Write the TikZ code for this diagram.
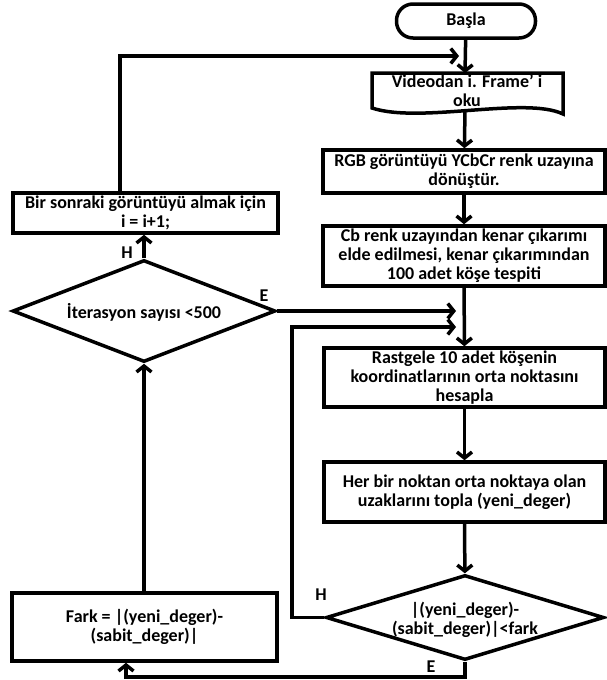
\documentclass[tikz,border=0pt]{standalone}
\usepackage{fontspec}
\setmainfont{Carlito}
\usetikzlibrary{arrows.meta,shapes.geometric}
\begin{document}
\begin{tikzpicture}[x=1pt,y=-1pt,line width=3.5pt,
  >={Straight Barb[length=6pt,width=15pt]},
  txt/.style={font=\bfseries\fontsize{18}{19}\selectfont,align=center,inner sep=0pt},
  box/.style={draw,rectangle,inner sep=0pt,font=\bfseries\fontsize{18}{19}\selectfont,align=center},
  diam/.style={draw,diamond,inner sep=0pt},
  lbl/.style={font=\bfseries\fontsize{18}{19}\selectfont,inner sep=0pt}]
\useasboundingbox (0,0) rectangle (606,680);
% start
\node[draw,rectangle,rounded corners=16.5pt,minimum width=139pt,minimum height=34pt,txt] (start) at (466,21) {Başla};
% document shape
\coordinate (doctop) at (465,73);
\coordinate (docbot) at (465,111);
\draw (372,73) -- (563,73) -- (563,114) .. controls (525,96) and (420,124) .. (372,108) -- cycle;
\node[txt] (doc) at (467,91) {Videodan i. Frame’ i\\oku};
% right column
\node[box,minimum width=282pt,minimum height=43pt] (rgb) at (464,171.5) {RGB görüntüyü YCbCr renk uzayına\\dönüştür.};
\node[box,minimum width=282pt,minimum height=60pt] (cb) at (464,256) {Cb renk uzayından kenar çıkarımı\\elde edilmesi, kenar çıkarımından\\100 adet köşe tespiti};
\node[box,minimum width=281pt,minimum height=59pt] (rast) at (464.5,377.5) {Rastgele 10 adet köşenin\\koordinatlarının orta noktasını\\hesapla};
\node[box,minimum width=281pt,minimum height=60pt] (her) at (464.5,492) {Her bir noktan orta noktaya olan\\uzaklarını topla (yeni\_deger)};
\node[diam,minimum width=278pt,minimum height=85pt] (d2) at (465,617.5) {};
\node[txt] (d2t) at (465,620) {|(yeni\_deger)-\\(sabit\_deger)|<fark};
% left column
\node[box,minimum width=265pt,minimum height=68pt] (fark) at (144.5,627) {Fark = |(yeni\_deger)-\\(sabit\_deger)|};
\node[diam,minimum width=263pt,minimum height=102pt] (d1) at (144,311) {};
\node[txt] (d1t) at (144,312) {İterasyon sayısı <500};
\node[box,minimum width=265pt,minimum height=40pt] (bir) at (145.5,213) {Bir sonraki görüntüyü almak için\\i = i+1;};
% helper coordinates
\coordinate (c1) at (120,56);
\coordinate (c1e) at (459,56);
\coordinate (e1) at (456,311);
\coordinate (h2a) at (292,617.5);
\coordinate (h2b) at (292,327);
\coordinate (h2e) at (456,327);
\coordinate (b1) at (465,677);
\coordinate (b2) at (126,677);
% connectors
\draw[->] (start) -- (doctop);
\draw[->] (docbot) -- (rgb);
\draw[->] (rgb) -- (cb);
\draw[->] (cb) -- (rast);
\draw[->] (rast) -- (her);
\draw[->] (her) -- (d2);
\draw[->] (d2.south) -- (b1) -- (b2) -- (b2 |- fark.south);
\draw[->] (fark.north -| d1.south) -- (d1.south);
\draw[->] (d1.north) -- (bir.south -| d1.north);
\draw[->] (c1 |- bir.north) -- (c1) -- (c1e);
\draw[->] (d1.east) -- (e1);
\draw[->] (d2.west) -- (h2a) -- (h2b) -- (h2e);
% labels
\node[lbl] (lh1) at (127,253) {H};
\node[lbl] (le1) at (264,296) {E};
\node[lbl] (lh2) at (321,595) {H};
\node[lbl] (le2) at (431,667) {E};
\end{tikzpicture}
\end{document}
